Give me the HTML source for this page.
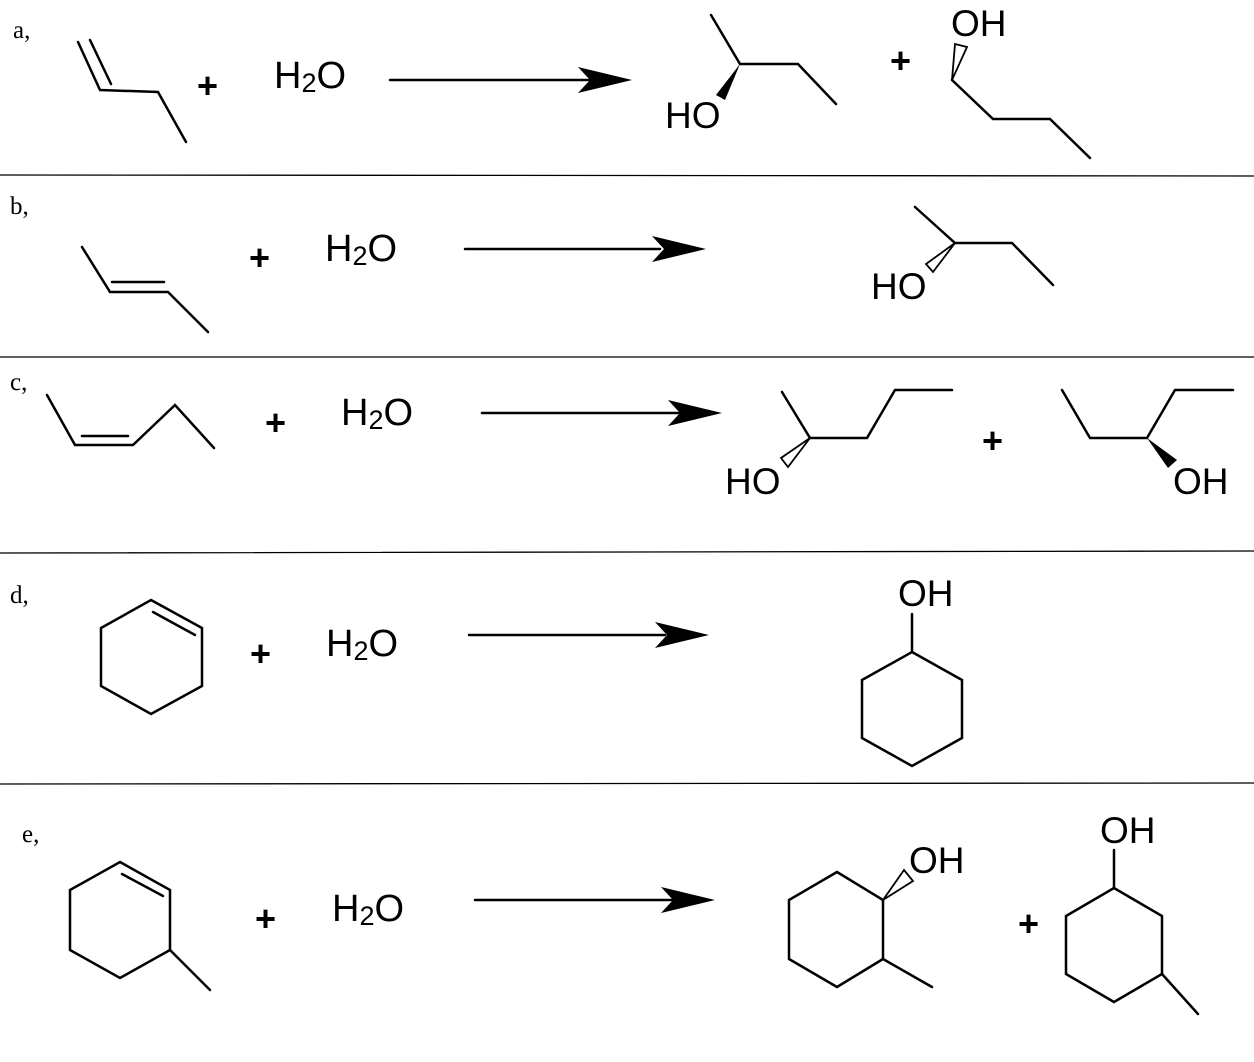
<!DOCTYPE html>
<html><head><style>body{margin:0;background:#fff}svg{display:block}</style></head><body>
<svg width="1254" height="1062" viewBox="0 0 1254 1062" xmlns="http://www.w3.org/2000/svg">
<g stroke="#000" stroke-width="2.5" fill="none" stroke-linecap="round">
<line x1="0" y1="175" x2="1254" y2="176" stroke-width="1.3"/>
<line x1="0" y1="357" x2="1254" y2="357" stroke-width="1.3"/>
<line x1="0" y1="553" x2="1254" y2="551" stroke-width="1.3"/>
<line x1="0" y1="784" x2="1254" y2="783" stroke-width="1.3"/>
<polyline points="78,42 100,90 158,92 186,142"/>
<line x1="90" y1="40" x2="111" y2="84"/>
<polyline points="711,15 740,64 798,64 836,104"/>
<polyline points="952,80 993,119 1050,119 1090,158"/>
<polygon points="952,80 955,44 967,47" stroke-width="1.8"/>
<polyline points="82,247 110,292 168,292 208,332"/>
<line x1="112" y1="282" x2="164" y2="282"/>
<polyline points="915,207 955,243 1012,243 1053,285"/>
<polygon points="955,243 926,264 933,272" stroke-width="1.8"/>
<polyline points="47,395 75,445 133,445 175,405 214,448"/>
<line x1="82" y1="436" x2="128" y2="436"/>
<polyline points="782,392 810,438 867,438 895,390 952,390"/>
<polygon points="810,438 781,458 788,467" stroke-width="1.8"/>
<polyline points="1062,390 1090,438 1147,438 1175,390 1233,390"/>
<polygon points="151,600 202,628 202,686 151,714 101,686 101,628"/>
<line x1="153" y1="612" x2="195" y2="635"/>
<polygon points="912,652 962,680 962,738 912,766 862,738 862,680"/>
<line x1="912" y1="652" x2="912" y2="614"/>
<polygon points="120,862 170,890 170,950 120,978 70,950 70,890"/>
<line x1="122" y1="874" x2="163" y2="896"/>
<line x1="170" y1="950" x2="210" y2="990"/>
<polygon points="837,872 883,900 883,959 837,987 789,959 789,900"/>
<line x1="883" y1="959" x2="932" y2="987"/>
<polygon points="883,900 904,870 913,881" stroke-width="1.8"/>
<polygon points="1114,888 1162,916 1162,974 1114,1002 1066,974 1066,916"/>
<line x1="1114" y1="888" x2="1114" y2="850"/>
<line x1="1162" y1="974" x2="1198" y2="1014"/>
<line x1="390" y1="80" x2="590" y2="80"/>
<line x1="465" y1="249" x2="660" y2="249"/>
<line x1="482" y1="413" x2="680" y2="413"/>
<line x1="469" y1="635" x2="665" y2="635"/>
<line x1="475" y1="900" x2="672" y2="900"/>
</g>
<g fill="#000">
<polygon points="740,64 716,95 725,100"/>
<polygon points="1147,438 1168,468 1177,460"/>
<polygon points="578,67 632,80 578,93 590,80"/>
<polygon points="652,236 706,249 652,262 664,249"/>
<polygon points="668,400 722,413 668,426 680,413"/>
<polygon points="655,622 709,635 655,648 667,635"/>
<polygon points="661,887 715,900 661,913 673,900"/>
</g>
<g font-family="'Liberation Serif',serif" font-size="25">
<text x="13" y="38">a,</text><text x="10" y="214">b,</text><text x="10" y="390">c,</text><text x="10" y="603">d,</text><text x="22" y="842">e,</text>
</g>
<g font-family="'Liberation Sans',sans-serif" font-size="38">
<text x="274" y="88">H<tspan font-size="27" dy="4">2</tspan><tspan dy="-4">O</tspan></text>
<text x="325" y="261">H<tspan font-size="27" dy="4">2</tspan><tspan dy="-4">O</tspan></text>
<text x="341" y="425">H<tspan font-size="27" dy="4">2</tspan><tspan dy="-4">O</tspan></text>
<text x="326" y="656">H<tspan font-size="27" dy="4">2</tspan><tspan dy="-4">O</tspan></text>
<text x="332" y="921">H<tspan font-size="27" dy="4">2</tspan><tspan dy="-4">O</tspan></text>
</g>
<g font-family="'Liberation Sans',sans-serif" font-size="37">
<text x="665" y="128">HO</text>
<text x="951" y="36">OH</text>
<text x="871" y="299">HO</text>
<text x="725" y="494">HO</text>
<text x="1173" y="494">OH</text>
<text x="898" y="606">OH</text>
<text x="909" y="873">OH</text>
<text x="1100" y="843">OH</text>
</g>
<g font-family="'Liberation Sans',sans-serif" font-size="36" font-weight="bold">
<text x="197" y="98">+</text><text x="890" y="73">+</text><text x="249" y="270">+</text>
<text x="265" y="435">+</text><text x="982" y="453">+</text><text x="250" y="666">+</text>
<text x="255" y="931">+</text><text x="1018" y="936">+</text>
</g>
</svg>
</body></html>
